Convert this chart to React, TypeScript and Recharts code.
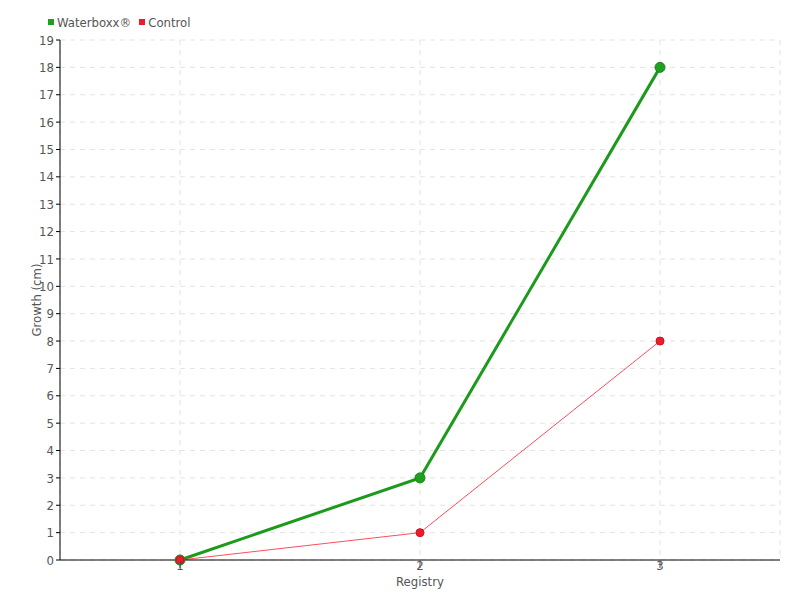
import React from 'react';
import { LineChart, Line, XAxis, YAxis, CartesianGrid, Legend } from 'recharts';

const registries = ['1', '2', '3'];
const waterboxx = [0, 3, 18];
const control = [0, 1, 8];
const yTicks = [0, 1, 2, 3, 4, 5, 6, 7, 8, 9, 10, 11, 12, 13, 14, 15, 16, 17, 18, 19];

const data = registries.map((r, i) => ({ registry: r, waterboxx: waterboxx[i], control: control[i] }));

const FONT = '"DejaVu Sans Condensed", "DejaVu Sans", sans-serif';

const LegendBox = () => (
  <div style={{ display: 'flex', alignItems: 'center', fontFamily: FONT, fontSize: 13, color: '#555', height: 20 }}>
    <span style={{ width: 6, height: 6, background: '#1fa01f', display: 'inline-block', marginRight: 3 }} />
    <span style={{ marginRight: 8 }}>Waterboxx®</span>
    <span style={{ width: 6, height: 6, background: '#ec1c2c', display: 'inline-block', marginRight: 3 }} />
    <span>Control</span>
  </div>
);

export default function App() {
  return (
    <div style={{ position: 'absolute', left: 0, top: 0, width: 800, height: 600, background: '#fff' }}>
      <LineChart width={800} height={600} data={data} margin={{ top: 20, right: 20, bottom: 0, left: 0 }}>
        <CartesianGrid stroke="#e3e3e3" strokeDasharray="5 5" />
        <Legend
          verticalAlign="top"
          align="left"
          content={<LegendBox />}
          wrapperStyle={{ top: 12, left: 48, height: 20 }}
        />
        <XAxis
          dataKey="registry"
          height={40}
          padding={{ left: 120, right: 120 }}
          stroke="#000"
          tickLine={{ stroke: '#555' }}
          tickSize={8}
          tickMargin={0}
          tick={{ fill: '#555', fontSize: 13, fontFamily: FONT, dy: -7 }}
          label={{ value: 'Registry', position: 'insideBottom', offset: 14, fill: '#555', fontSize: 13, fontFamily: FONT }}
        />
        <YAxis
          width={60}
          domain={[0, 19]}
          ticks={yTicks}
          interval={0}
          stroke="#000"
          tickSize={4}
          tick={{ fill: '#555', fontSize: 13, fontFamily: FONT }}
          label={{ value: 'Growth (cm)', angle: -90, position: 'insideLeft', offset: 36, fill: '#555', fontSize: 13, fontFamily: FONT, style: { textAnchor: 'middle' } }}
        />
        <Line
          type="linear"
          dataKey="waterboxx"
          name="Waterboxx®"
          stroke="#1c9a1c"
          strokeWidth={3}
          dot={{ r: 5, fill: '#20a020', stroke: '#168816', strokeWidth: 1 }}
          activeDot={false}
          isAnimationActive={false}
        />
        <Line
          type="linear"
          dataKey="control"
          name="Control"
          stroke="#ff4d5e"
          strokeWidth={1}
          dot={{ r: 4, fill: '#ec1c2c', stroke: '#d01020', strokeWidth: 1 }}
          activeDot={false}
          isAnimationActive={false}
        />
      </LineChart>
    </div>
  );
}
